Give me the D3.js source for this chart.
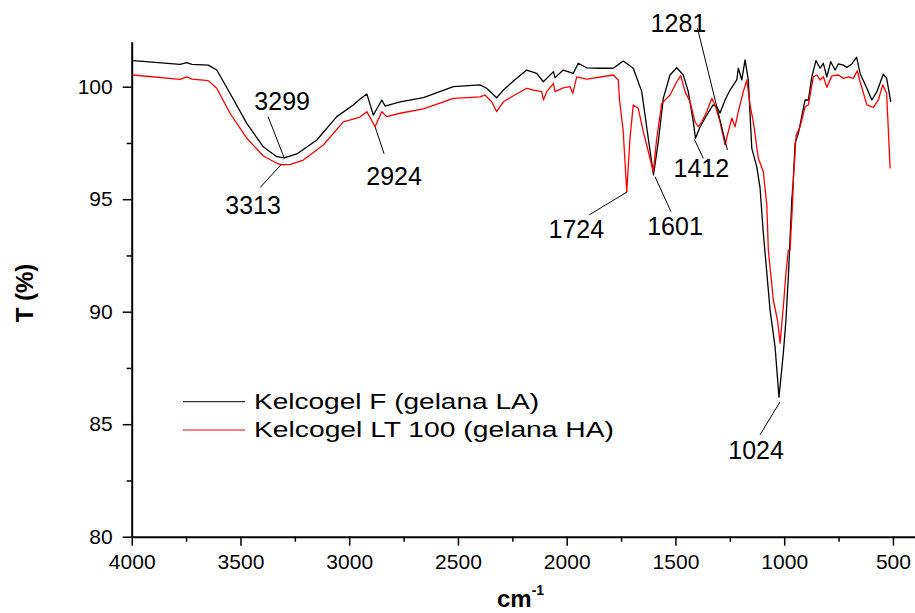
<!DOCTYPE html>
<html>
<head>
<meta charset="utf-8">
<script src="https://cdn.jsdelivr.net/npm/d3@7"></script>
<style>
  body { margin: 0; background: #fff; }
  text { font-family: "Liberation Sans", Arial, sans-serif; fill: #000; }
</style>
</head>
<body>
<script>
// FTIR spectra: [wavenumber (cm-1), T (%)]
const gelanaLA = [
  [3993, 101.16], [3778, 100.99], [3747, 101.07], [3723, 100.99], [3648, 100.96],
  [3609, 100.74], [3548, 99.71], [3471, 98.37], [3395, 97.33], [3333, 96.89],
  [3299, 96.84], [3241, 97.01], [3149, 97.63], [3057, 98.67], [2981, 99.19],
  [2950, 99.45], [2919, 99.68], [2889, 98.74], [2850, 99.41], [2835, 99.14],
  [2766, 99.33], [2659, 99.51], [2521, 100.0], [2399, 100.08], [2368, 99.93],
  [2322, 99.51], [2291, 99.85], [2245, 100.25], [2184, 100.74], [2138, 100.59],
  [2107, 100.22], [2092, 100.37], [2061, 100.67], [2054, 100.40], [2016, 100.74],
  [1970, 100.59], [1947, 101.04], [1908, 100.84], [1847, 100.82], [1786, 100.82],
  [1740, 101.14], [1694, 100.82], [1655, 99.78], [1625, 97.71], [1601, 96.08],
  [1579, 97.55], [1556, 99.48], [1525, 100.52], [1494, 100.84], [1464, 100.52],
  [1441, 99.78], [1418, 98.44], [1408, 97.71], [1387, 98.21], [1356, 98.74],
  [1327, 99.19], [1309, 99.10], [1295, 98.83], [1272, 99.41], [1249, 99.85],
  [1218, 100.30], [1211, 100.82], [1195, 100.30], [1180, 101.19], [1165, 100.30],
  [1149, 97.26], [1126, 96.44], [1111, 95.50], [1096, 93.50], [1065, 90.08],
  [1042, 88.44], [1024, 86.20], [1004, 88.16], [992, 89.63], [981, 91.55],
  [965, 94.96], [958, 95.85], [950, 97.48], [935, 97.93], [904, 99.41],
  [889, 99.41], [873, 100.44], [854, 101.16], [835, 100.82], [820, 101.04],
  [804, 100.44], [786, 101.11], [766, 100.74], [751, 101.01], [728, 100.96],
  [712, 100.86], [689, 101.01], [667, 101.31], [651, 100.59], [620, 99.93],
  [597, 99.41], [574, 99.78], [544, 100.56], [529, 100.37], [510, 99.33]
];

const gelanaHA = [
  [3993, 100.52], [3778, 100.33], [3747, 100.44], [3723, 100.34], [3648, 100.27],
  [3609, 99.93], [3548, 98.82], [3471, 97.71], [3395, 96.92], [3333, 96.60],
  [3313, 96.54], [3272, 96.54], [3211, 96.74], [3119, 97.41], [3027, 98.44],
  [2950, 98.65], [2919, 98.89], [2881, 98.22], [2850, 98.89], [2828, 98.67],
  [2766, 98.82], [2659, 99.01], [2521, 99.48], [2399, 99.55], [2376, 99.63],
  [2345, 99.33], [2322, 98.89], [2291, 99.33], [2245, 99.60], [2184, 99.93],
  [2153, 99.85], [2115, 99.78], [2107, 99.41], [2092, 99.78], [2061, 100.15],
  [2054, 99.78], [2016, 99.95], [1985, 100.0], [1972, 99.70], [1954, 100.44],
  [1908, 100.34], [1786, 100.52], [1763, 100.30], [1757, 99.41], [1740, 98.0],
  [1724, 95.33], [1709, 97.71], [1694, 99.19], [1671, 99.04], [1648, 98.0],
  [1617, 96.82], [1602, 96.22], [1586, 97.71], [1563, 99.26], [1525, 99.63],
  [1494, 100.22], [1476, 100.49], [1456, 99.78], [1433, 99.33], [1410, 98.44],
  [1395, 98.22], [1379, 98.44], [1356, 98.89], [1333, 99.48], [1318, 99.19],
  [1295, 98.44], [1272, 97.41], [1257, 98.0], [1241, 98.60], [1226, 98.22],
  [1211, 98.89], [1188, 99.78], [1172, 100.30], [1157, 99.19], [1142, 98.44],
  [1119, 96.82], [1096, 96.22], [1080, 94.74], [1073, 92.74], [1050, 90.52],
  [1031, 89.63], [1019, 88.60], [1004, 90.22], [992, 91.71], [981, 92.74],
  [973, 92.74], [961, 94.96], [958, 95.85], [945, 97.85], [927, 98.22],
  [904, 99.11], [889, 99.19], [866, 100.44], [850, 100.52], [835, 100.30],
  [820, 100.44], [804, 99.97], [781, 100.48], [751, 100.52], [728, 100.37],
  [705, 100.44], [682, 100.37], [664, 100.71], [651, 100.22], [620, 99.19],
  [590, 99.08], [567, 99.41], [547, 100.08], [529, 99.71], [513, 96.37]
];

const seriesNames = ["Kelcogel F (gelana LA)", "Kelcogel LT 100 (gelana HA)"];
const seriesColors = ["#000000", "#ff0000"];

const xTicks = [4000, 3500, 3000, 2500, 2000, 1500, 1000, 500];
const xMinorTicks = [3750, 3250, 2750, 2250, 1750, 1250, 750];
const yTicks = [80, 85, 90, 95, 100];
const yMinorTicks = [82.5, 87.5, 92.5, 97.5];

// peak labels: text, wavenumber and T where the leader line touches the curve
const peakLabels = ["3299", "3313", "2924", "1724", "1601", "1412", "1281", "1024"];
const peakWn = [3299, 3313, 2881, 1721, 1594, 1413, 1261, 1019];
const peakT = [96.84, 96.54, 98.22, 95.33, 96.0, 97.66, 97.19, 86.0];

// layout offsets (px) from the peak point: leader line start and label anchor
const labelLayout = [
  { line: [-16, -41], text: [-2, -48] },
  { line: [-21, 23], text: [-28, 49] },
  { line: [9, 27], text: [19, 58] },
  { line: [-38, 23], text: [-51, 46] },
  { line: [16, 35], text: [20, 58] },
  { line: [9, 19], text: [7, 38] },
  { line: [-30, -122], text: [-49, -118] },
  { line: [-20, 33], text: [-24, 57] }
];

const width = 915;
const height = 613;
const x0 = 131.7, x1 = 914.7;
const yTop = 41.7, yBottom = 536.7;

const svg = d3.select("body")
    .append("svg")
    .attr("width", width)
    .attr("height", height);

const x = d3.scaleLinear().domain([4000, 400]).range([x0, x1]);
const y = d3.scaleLinear().domain([80, 102]).range([yBottom, yTop]);

// minor ticks first, then the main axes on top
svg.append("g")
    .attr("transform", `translate(0, ${yBottom})`)
    .call(d3.axisBottom(x).tickValues(xMinorTicks).tickSize(5).tickFormat(""))
    .call(g => g.select(".domain").remove())
    .call(g => g.selectAll("line").attr("stroke-width", 1.5));

svg.append("g")
    .attr("transform", `translate(${x0}, 0)`)
    .call(d3.axisLeft(y).tickValues(yMinorTicks).tickSize(5).tickFormat(""))
    .call(g => g.select(".domain").remove())
    .call(g => g.selectAll("line").attr("stroke-width", 1.5));

svg.append("g")
    .attr("transform", `translate(0, ${yBottom})`)
    .call(d3.axisBottom(x).tickValues(xTicks).tickFormat(d3.format("d"))
        .tickSizeInner(9).tickSizeOuter(0).tickPadding(8))
    .call(g => g.select(".domain").attr("stroke-width", 2))
    .call(g => g.selectAll("line").attr("stroke-width", 1.5))
    .call(g => g.selectAll("text").attr("font-size", 21).attr("font-family", null));

svg.append("g")
    .attr("transform", `translate(${x0}, 0)`)
    .call(d3.axisLeft(y).tickValues(yTicks).tickFormat(d3.format("d"))
        .tickSizeInner(9).tickSizeOuter(0).tickPadding(10))
    .call(g => g.select(".domain").attr("stroke-width", 2))
    .call(g => g.selectAll("line").attr("stroke-width", 1.5))
    .call(g => g.selectAll("text").attr("font-size", 21).attr("font-family", null));

// spectra
const line = d3.line()
    .x(d => x(d[0]))
    .y(d => y(d[1]));

[gelanaLA, gelanaHA].forEach((data, i) => {
  svg.append("path")
      .datum(data)
      .attr("fill", "none")
      .attr("stroke", seriesColors[i])
      .attr("stroke-width", 1.3)
      .attr("stroke-linejoin", "round")
      .attr("d", line);
});

// peak annotations
const ann = svg.append("g").attr("id", "peaks");
peakLabels.forEach((label, i) => {
  const px = x(peakWn[i]), py = y(peakT[i]);
  const lay = labelLayout[i];
  ann.append("line")
      .attr("x1", px + lay.line[0])
      .attr("y1", py + lay.line[1])
      .attr("x2", px)
      .attr("y2", py)
      .attr("stroke", "#000")
      .attr("stroke-width", 1);
  ann.append("text")
      .attr("x", px + lay.text[0])
      .attr("y", py + lay.text[1])
      .attr("text-anchor", "middle")
      .attr("font-size", 25)
      .text(label);
});

// legend
const legend = svg.append("g").attr("id", "legend");
const legendWidths = [285, 360];
seriesNames.forEach((name, i) => {
  const ly = 401.7 + i * 28.3;
  legend.append("line")
      .attr("x1", 183).attr("x2", 245)
      .attr("y1", ly).attr("y2", ly)
      .attr("stroke", seriesColors[i])
      .attr("stroke-width", 1);
  legend.append("text")
      .attr("x", 254)
      .attr("y", ly + 7)
      .attr("font-size", 22)
      .attr("textLength", legendWidths[i])
      .attr("lengthAdjust", "spacingAndGlyphs")
      .text(name);
});

// axis titles
svg.append("text")
    .attr("transform", "translate(33, 293) rotate(-90)")
    .attr("text-anchor", "middle")
    .attr("font-size", 24)
    .attr("font-weight", "bold")
    .text("T (%)");

const xTitle = svg.append("text")
    .attr("x", 497)
    .attr("y", 607)
    .attr("font-size", 24)
    .attr("font-weight", "bold");
xTitle.append("tspan").text("cm");
xTitle.append("tspan")
    .attr("dy", -12)
    .attr("font-size", 14)
    .text("-1");
</script>
</body>
</html>
